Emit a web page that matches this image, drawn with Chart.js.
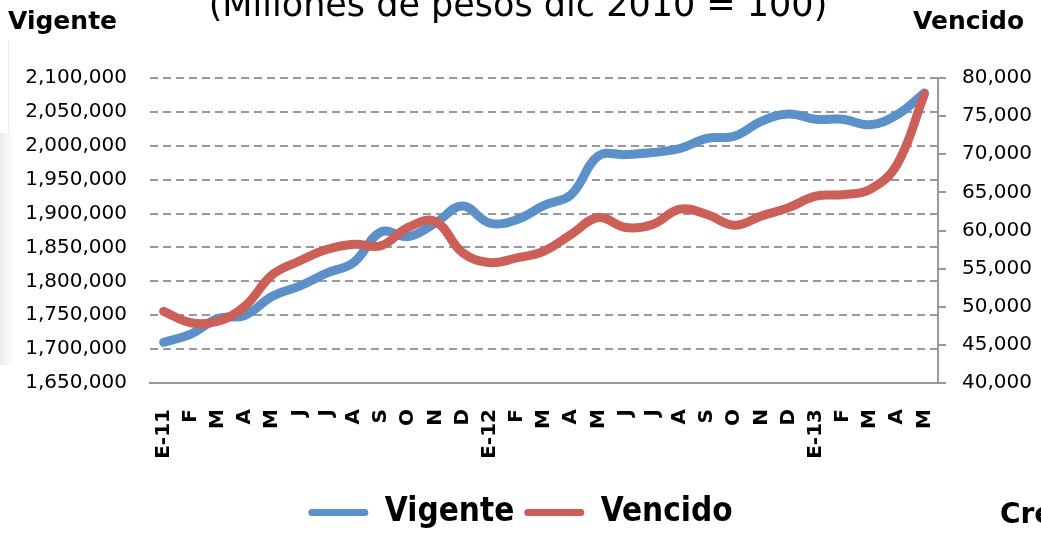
<!DOCTYPE html>
<html>
<head>
<meta charset="utf-8">
<script src="https://cdn.jsdelivr.net/npm/chart.js@4.4.1/dist/chart.umd.min.js"></script>
<style>
  html, body { margin: 0; padding: 0; background: #fff; }
  #wrap { width: 1041px; height: 539px; position: relative; }
</style>
</head>
<body>
<div id="wrap"><canvas id="chart" width="1041" height="539"></canvas></div>
<script>
const months = ["E-11", "F", "M", "A", "M", "J", "J", "A", "S", "O", "N", "D",
                "E-12", "F", "M", "A", "M", "J", "J", "A", "S", "O", "N", "D",
                "E-13", "F", "M", "A", "M"];

// Cartera vigente (eje izquierdo)
const vigente = [1710000, 1722000, 1745000, 1750000, 1778000, 1793000, 1812000, 1828000, 1873000, 1866000,
                 1886000, 1911000, 1886000, 1891000, 1912000, 1928000, 1985000, 1987000, 1990000, 1996000,
                 2011000, 2014000, 2036000, 2047000, 2039000, 2039000, 2031000, 2046000, 2078000];

// Cartera vencida (eje derecho)
const vencido = [49400, 47900, 48100, 50100, 54200, 56000, 57500, 58200, 58000, 60400,
                 61200, 57100, 55800, 56400, 57300, 59500, 61700, 60400, 60800, 62800,
                 62100, 60700, 61900, 63000, 64500, 64700, 65400, 68700, 77900];

const blue = '#5b90c8';
const red = '#cc5f58';
const gridGray = '#999999';
const fmt = v => Number(v).toLocaleString('en-US');

const extraText = {
    id: 'extraText',
    beforeDraw(chart) {
        const ctx = chart.ctx;
        ctx.save();
        // sombra gris de la diapositiva a la izquierda
        const g = ctx.createLinearGradient(0, 0, 14, 0);
        g.addColorStop(0, '#ececec');
        g.addColorStop(1, '#ffffff');
        ctx.fillStyle = g;
        ctx.fillRect(0, 133, 14, 232);
        ctx.fillStyle = '#eeeeee';
        ctx.fillRect(8, 40, 1, 93);
        ctx.restore();
    },
    afterDraw(chart) {
        const ctx = chart.ctx;
        ctx.save();
        ctx.fillStyle = '#000';
        ctx.textBaseline = 'alphabetic';
        ctx.font = '35px "DejaVu Sans"';
        ctx.textAlign = 'center';
        ctx.fillText('(Millones de pesos dic 2010 = 100)', 518, 16);
        ctx.textAlign = 'left';
        ctx.font = 'bold 25px "DejaVu Sans"';
        ctx.fillText('Vigente', 8, 29);
        ctx.fillText('Vencido', 913, 29);
        ctx.font = 'bold 28px "DejaVu Sans"';
        ctx.fillText('Crédito', 1000, 523);
        ctx.restore();
    }
};

new Chart(document.getElementById('chart').getContext('2d'), {
    type: 'line',
    data: {
        labels: months,
        datasets: [{
            label: 'Vigente',
            data: vigente,
            yAxisID: 'y',
            borderColor: blue,
            backgroundColor: blue,
            borderWidth: 9,
            tension: 0.4,
            pointRadius: 0,
            borderCapStyle: 'round',
            order: 1
        }, {
            label: 'Vencido',
            data: vencido,
            yAxisID: 'y1',
            borderColor: red,
            backgroundColor: red,
            borderWidth: 9,
            tension: 0.4,
            pointRadius: 0,
            borderCapStyle: 'round',
            order: 0
        }]
    },
    options: {
        responsive: false,
        animation: false,
        layout: { padding: { top: 78, left: 0, right: 0, bottom: 0 } },
        plugins: {
            tooltip: { enabled: false },
            legend: {
                position: 'bottom',
                labels: {
                    color: '#000',
                    font: { family: '"DejaVu Sans Condensed", "DejaVu Sans"', size: 33, weight: 'bold' },
                    boxWidth: 60,
                    boxHeight: 7,
                    useBorderRadius: true,
                    borderRadius: 3.5,
                    sort: (a, b) => a.datasetIndex - b.datasetIndex,
                    generateLabels(chart) {
                        const items = Chart.defaults.plugins.legend.labels.generateLabels(chart);
                        items.forEach(it => { it.lineWidth = 0; });
                        return items;
                    }
                }
            }
        },
        scales: {
            x: {
                offset: true,
                grid: { display: false },
                border: { display: true, color: gridGray, width: 2 },
                ticks: {
                    autoSkip: false,
                    minRotation: 90,
                    maxRotation: 90,
                    padding: 18,
                    color: '#000',
                    font: { family: '"DejaVu Sans"', size: 20, weight: 'bold' }
                },
                afterFit(scale) { scale.height = 103; }
            },
            y: {
                position: 'left',
                min: 1650000,
                max: 2100000,
                grid: { color: gridGray, lineWidth: 2, drawTicks: false },
                border: { display: false, dash: [8, 5] },
                ticks: {
                    stepSize: 50000,
                    padding: 23,
                    color: '#000',
                    font: { family: '"DejaVu Sans"', size: 20 },
                    callback: v => fmt(v)
                },
                afterFit(scale) { scale.width = 150; }
            },
            y1: {
                position: 'right',
                min: 40000,
                max: 80000,
                grid: { drawOnChartArea: false, drawTicks: true, tickLength: 8, color: gridGray, lineWidth: 2 },
                border: { display: true, color: gridGray, width: 2 },
                ticks: {
                    stepSize: 5000,
                    padding: 16,
                    color: '#000',
                    font: { family: '"DejaVu Sans"', size: 20 },
                    callback: v => fmt(v)
                },
                afterFit(scale) { scale.width = 103; }
            }
        }
    },
    plugins: [extraText]
});
</script>
</body>
</html>
